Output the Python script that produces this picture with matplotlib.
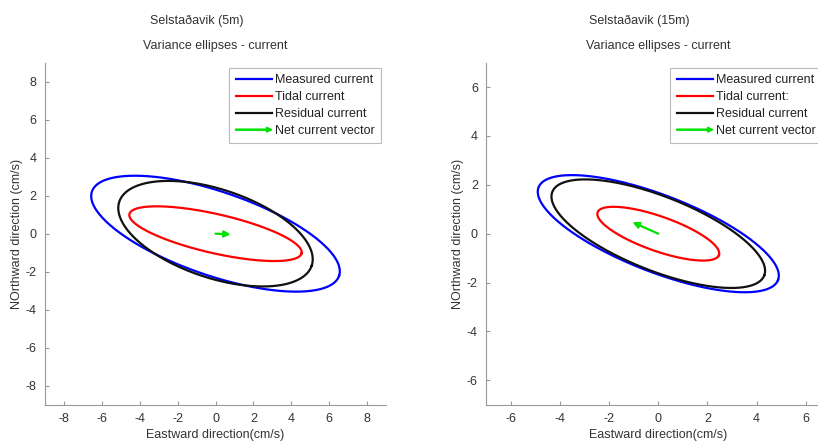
import numpy as np
import matplotlib
matplotlib.use('Agg')
import matplotlib.pyplot as plt
from matplotlib.lines import Line2D
from matplotlib.patches import FancyArrow
from matplotlib.legend_handler import HandlerBase

plt.rcParams['font.family'] = ['Liberation Sans', 'DejaVu Sans']
plt.rcParams['axes.unicode_minus'] = False

# station titles
stations = ['Selstaðavik (5m)', 'Selstaðavik (15m)']
limits = [9, 7]
tick_sets = [[-8, -6, -4, -2, 0, 2, 4, 6, 8], [-6, -4, -2, 0, 2, 4, 6]]

# variance ellipses: semi-major, semi-minor (cm/s), orientation (deg)
measured_major = [6.89, 5.23]
measured_minor = [2.21, 1.57]
measured_angle = [-18.8, -21.3]

tidal_major = [4.66, 2.62]
tidal_minor = [1.03, 0.71]
tidal_angle = [-12.8, -19.5]

residual_major = [5.35, 4.64]
residual_minor = [2.33, 1.52]
residual_angle = [-18.3, -21.7]

# net current vector (u east, v north)
net_u = [0.80, -1.05]
net_v = [-0.03, 0.47]

labels = ['Measured current', 'Tidal current', 'Residual current', 'Net current vector']
labels2 = ['Measured current', 'Tidal current:', 'Residual current', 'Net current vector']

GREEN = '#00e000'
GRAY = '#999999'
TXT = '#333333'
FS = 9


def elipse(a, b, ang):
    t = np.linspace(0, 2 * np.pi, 300)
    th = np.radians(ang)
    x = a * np.cos(t) * np.cos(th) - b * np.sin(t) * np.sin(th)
    y = a * np.cos(t) * np.sin(th) + b * np.sin(t) * np.cos(th)
    return x, y


class ArrowHandler(HandlerBase):
    def create_artists(self, legend, orig, xd, yd, w, h, fontsize, trans):
        a = FancyArrow(-xd, h / 2 - yd, w, 0, width=h * 0.12, head_width=h * 0.55,
                       head_length=h * 0.6, length_includes_head=True,
                       color=GREEN, transform=trans)
        return [a]


fig = plt.figure(figsize=(8.18, 4.42), dpi=100)
posiciones = [[0.055, 0.0844, 0.4169, 0.7738], [0.5945, 0.0844, 0.4205, 0.7738]]
titulo_x = [0.241, 0.781]
leyenda_x = [0.985, 0.976]

for i in range(2):
    ax = fig.add_axes(posiciones[i])
    lim = limits[i]
    x, y = elipse(measured_major[i], measured_minor[i], measured_angle[i])
    ax.plot(x, y, color='#0000ff', lw=1.6)
    x, y = elipse(tidal_major[i], tidal_minor[i], tidal_angle[i])
    ax.plot(x, y, color='#ff0000', lw=1.6)
    x, y = elipse(residual_major[i], residual_minor[i], residual_angle[i])
    ax.plot(x, y, color='#111111', lw=1.6)
    ax.annotate('', xy=(net_u[i], net_v[i]), xytext=(0, 0),
                arrowprops=dict(arrowstyle='-|>', color=GREEN, lw=1.6,
                                mutation_scale=9, shrinkA=0, shrinkB=0))

    ax.set_xlim(-lim, lim)
    ax.set_ylim(-lim, lim)
    ax.set_xticks(tick_sets[i])
    ax.set_yticks(tick_sets[i])
    for s in ['top', 'right']:
        ax.spines[s].set_visible(False)
    for s in ['left', 'bottom']:
        ax.spines[s].set_color(GRAY)
        ax.spines[s].set_linewidth(0.8)
    ax.tick_params(direction='in', length=3, color=GRAY, labelsize=FS,
                   labelcolor=TXT, pad=6)
    ax.set_xlabel('Eastward direction(cm/s)', fontsize=FS, color=TXT, labelpad=3)
    ax.set_ylabel('NOrthward direction (cm/s)', fontsize=FS, color=TXT, labelpad=2)
    ax.set_title('Variance ellipses - current', fontsize=FS, color=TXT, pad=10)
    fig.text(titulo_x[i], 0.946, stations[i], fontsize=FS, color=TXT, ha='center')

    handles = [Line2D([], [], color='#0000ff', lw=1.6),
               Line2D([], [], color='#ff0000', lw=1.6),
               Line2D([], [], color='#111111', lw=1.6),
               FancyArrow(0, 0, 1, 0)]
    labs = labels if i == 0 else labels2
    leg = ax.legend(handles, labs, loc='upper right', bbox_to_anchor=(leyenda_x[i], 0.985),
                    fontsize=FS, frameon=True, fancybox=False, handlelength=2.9,
                    handletextpad=0.25, borderpad=0.5, labelspacing=0.4,
                    borderaxespad=0, handler_map={FancyArrow: ArrowHandler()})
    leg.get_frame().set_edgecolor('#aaaaaa')
    leg.get_frame().set_linewidth(0.8)
    for t in leg.get_texts():
        t.set_color('#222222')

fig.savefig('out.png', dpi=100)
